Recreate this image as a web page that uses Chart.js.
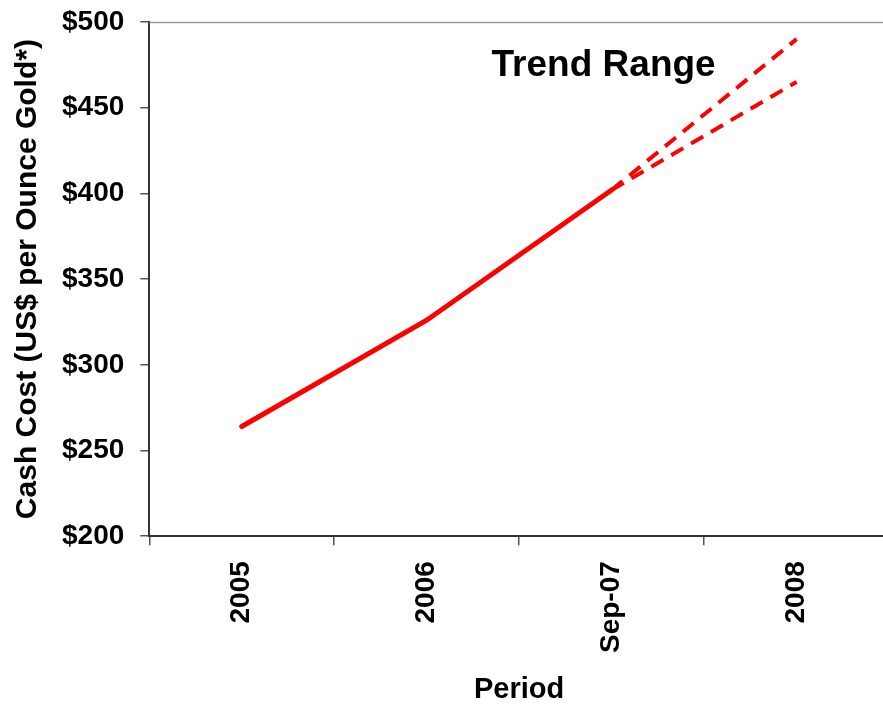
<!DOCTYPE html>
<html>
<head>
<meta charset="utf-8">
<script src="https://cdn.jsdelivr.net/npm/chart.js@4"></script>
<style>
  html, body { margin: 0; padding: 0; background: #fff; overflow: hidden; }
  #wrap { width: 883px; height: 704px; overflow: hidden; }
</style>
</head>
<body>
<div id="wrap"><canvas id="chart" width="900" height="704"></canvas></div>
<script>
// data
var periods = ['2005', '2006', 'Sep-07', '2008'];
var cashCost = [264, 326, 402, null];
var trendHigh = [null, null, 402, 490];
var trendLow = [null, null, 402, 465];
var yTicks = [200, 250, 300, 350, 400, 450, 500];

var FONT = 'Liberation Sans, Arial, sans-serif';

// grey frame line along the top of the plot area + the "Trend Range" note
var extras = {
  id: 'extras',
  afterDraw: function (chart) {
    var c = chart.ctx, a = chart.chartArea;
    c.save();
    c.strokeStyle = '#999';
    c.lineWidth = 1.5;
    c.beginPath();
    c.moveTo(a.left, a.top + 0.5);
    c.lineTo(a.right, a.top + 0.5);
    c.stroke();

    var x = chart.scales.x.getPixelForValue(2);
    var y = chart.scales.y.getPixelForValue(475);
    c.fillStyle = '#000';
    c.font = 'bold 37px ' + FONT;
    c.textAlign = 'center';
    c.textBaseline = 'middle';
    c.fillText('Trend Range', x - 8, y + 1);
    c.restore();
  }
};

var ctx = document.getElementById('chart');
var chart = new Chart(ctx, {
  type: 'line',
  data: {
    labels: periods,
    datasets: [{
      data: cashCost,
      borderColor: '#ff0000',
      borderWidth: 5,
      borderCapStyle: 'round',
      pointRadius: 0,
      tension: 0
    }, {
      data: trendHigh,
      borderColor: '#ff0000',
      borderWidth: 4,
      borderDash: [14, 9],
      pointRadius: 0,
      tension: 0
    }, {
      data: trendLow,
      borderColor: '#ff0000',
      borderWidth: 4,
      borderDash: [14, 9],
      pointRadius: 0,
      tension: 0
    }]
  },
  options: {
    responsive: false,
    animation: false,
    layout: { padding: { left: 10, top: 22, right: 11, bottom: 0 } },
    plugins: {
      legend: { display: false },
      tooltip: { enabled: false }
    },
    scales: {
      x: {
        offset: true,
        grid: { offset: true, drawOnChartArea: false, drawTicks: true, tickLength: 9, color: '#555', lineWidth: 1.5 },
        border: { display: true, color: '#333', width: 2 },
        ticks: {
          color: '#000',
          font: { family: FONT, size: 28, weight: 'bold' },
          minRotation: 90,
          maxRotation: 90,
          padding: 16
        },
        title: {
          display: true,
          text: 'Period',
          color: '#000',
          font: { family: FONT, size: 29, weight: 'bold', lineHeight: 1 },
          padding: { top: 6, bottom: 0 }
        }
      },
      y: {
        min: 200,
        max: 500,
        afterBuildTicks: function (axis) {
          axis.ticks = yTicks.map(function (v) { return { value: v }; });
        },
        grid: { drawOnChartArea: false, drawTicks: true, tickLength: 9, color: '#555', lineWidth: 1.5 },
        border: { display: true, color: '#333', width: 2 },
        ticks: {
          color: '#000',
          font: { family: FONT, size: 28, weight: 'bold', lineHeight: 0.4 },
          padding: 16,
          callback: function (v) { return '$' + v; }
        },
        title: {
          display: true,
          text: 'Cash Cost (US$ per Ounce Gold*)',
          color: '#000',
          font: { family: FONT, size: 30, weight: 'bold' },
          padding: { top: 0, bottom: 0 }
        }
      }
    }
  },
  plugins: [extras]
});
</script>
</body>
</html>
